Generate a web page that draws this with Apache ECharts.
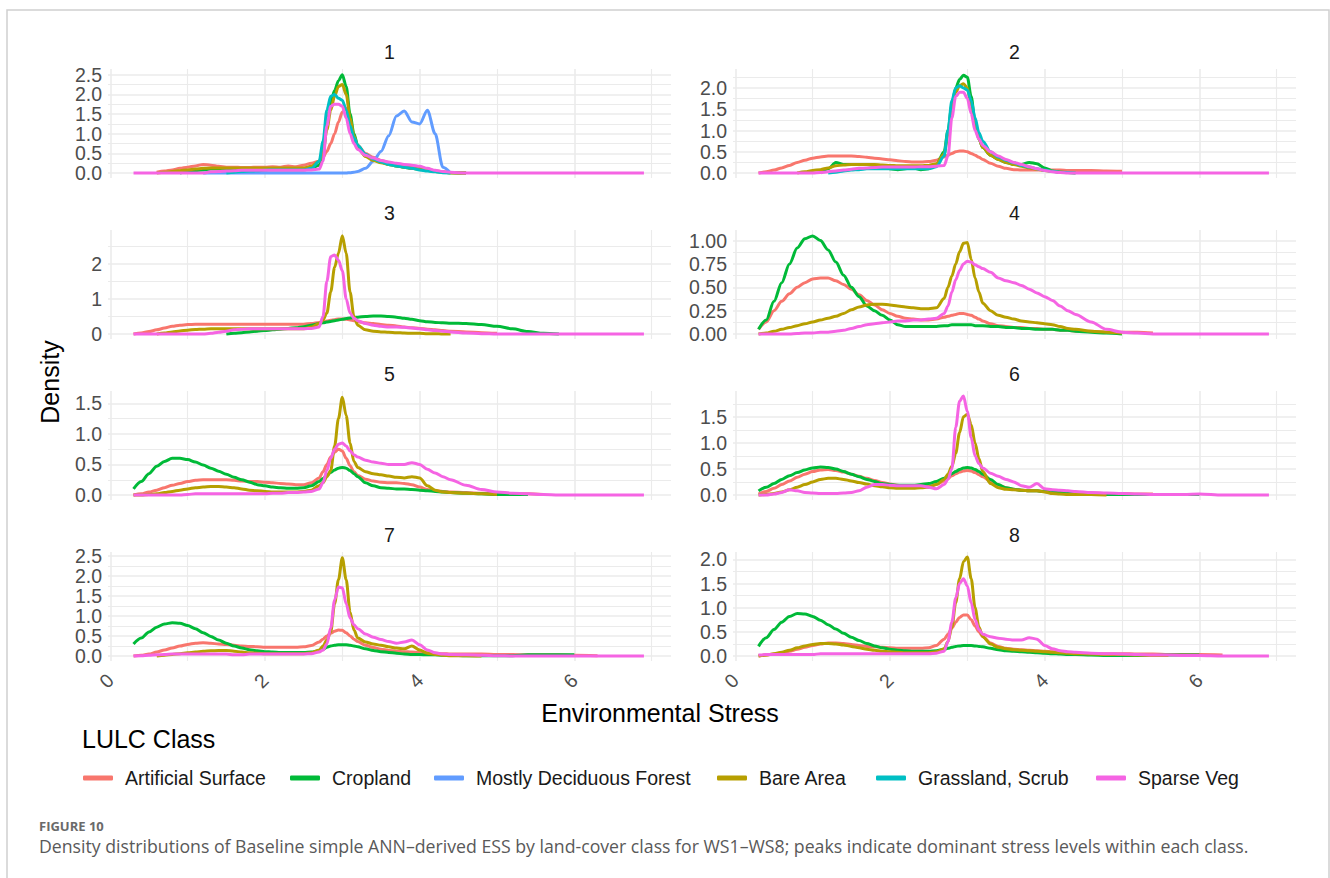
<!DOCTYPE html>
<html><head><meta charset="utf-8">
<script src="https://cdn.jsdelivr.net/npm/echarts@6/dist/echarts.min.js"></script>
<style>html,body{margin:0;padding:0;background:#fff}#chart{width:1330px;height:878px}</style>
</head><body><div id="chart"></div>
<script>
const _ = null;
// Environmental Stress sample positions (shared by every curve)
const STRESS = [0.3,0.4,0.5,0.6,0.7,0.8,0.9,1.0,1.1,1.2,1.3,1.4,1.5,1.6,1.7,1.8,1.9,2.0,2.1,2.2,2.3,2.4,2.5,2.6,2.7,
  2.75,2.8,2.85,2.9,2.95,3.0,3.05,3.1,3.15,3.2,
  3.3,3.4,3.5,3.6,3.7,3.8,3.9,4.0,4.1,4.2,4.3,4.4,
  4.6,4.8,5.0,5.2,5.4,5.6,5.8,6.0,
  6.3,6.6,6.9];
const CLASSES = ['Artificial Surface','Cropland','Mostly Deciduous Forest','Bare Area','Grassland, Scrub','Sparse Veg'];
const CLASS_COLORS = ['#F8766D','#00BA38','#619CFF','#B79F00','#00BFC4','#F564E3'];
const PANEL_TITLES = ['1','2','3','4','5','6','7','8'];
const X_TICK_VALUES = [0,2,4,6];
const Y_MAX = [2.52,2.33,2.82,1.06,1.62,1.9,2.47,2.05];
const Y_STEP = [0.5,0.5,1,0.25,0.5,0.5,0.5,0.5];
const Y_DEC = [1,1,0,2,1,1,1,1];

// ---- WS1 ----
const WS1_ART = [_,_,_,0.02,0.05,0.08,0.12,0.15,0.18,0.22,0.2,0.17,0.15,0.15,0.14,0.14,0.15,0.15,0.16,0.15,0.18,0.16,0.2,0.25,0.3,
  0.4,0.55,0.75,1.0,1.3,1.55,1.65,1.3,0.9,0.7,
  0.5,0.4,0.32,0.27,0.22,0.2,0.18,0.15,0.1,0.06,0.03,0.01,
  0,_,_,_,_,_,_,_, _,_,_];
const WS1_CROP = [_,_,_,_,_,_,0,0.03,0.06,0.08,0.1,0.1,0.1,0.1,0.1,0.1,0.1,0.1,0.1,0.1,0.1,0.1,0.1,0.12,0.2,
  0.5,1.2,1.8,2.1,2.35,2.5,2.2,1.5,1.0,0.7,
  0.45,0.35,0.28,0.22,0.18,0.15,0.12,0.1,0.07,0.04,0.02,0.01,
  0,_,_,_,_,_,_,_, _,_,_];
const WS1_DEC = [_,_,_,_,_,_,_,_,_,0,0,0,0,0,0,0,0,0,0,0,0,0,0,0,0,
  0,0,0,0,0,0,0,0.01,0.02,0.04,
  0.12,0.3,0.55,0.95,1.45,1.58,1.3,1.25,1.6,1.0,0.15,0,
  _,_,_,_,_,_,_,_, _,_,_];
const WS1_BARE = [_,_,_,0,0.02,0.04,0.06,0.08,0.1,0.12,0.13,0.13,0.13,0.13,0.13,0.13,0.13,0.13,0.13,0.13,0.13,0.13,0.13,0.17,0.3,
  0.5,1.1,1.6,1.95,2.2,2.25,2.0,1.4,0.95,0.65,
  0.42,0.32,0.26,0.22,0.18,0.15,0.12,0.1,0.07,0.04,0.02,0.01,
  0,_,_,_,_,_,_,_, _,_,_];
const WS1_GRASS = [_,_,_,_,_,_,_,_,_,_,_,_,0,0.02,0.04,0.05,0.06,0.07,0.08,0.08,0.08,0.08,0.08,0.12,0.3,
  0.8,1.6,1.95,2.0,1.9,1.85,1.6,1.2,0.9,0.7,
  0.48,0.36,0.28,0.22,0.18,0.15,0.12,0.08,0.05,0.03,0.01,0,
  _,_,_,_,_,_,_,_, _,_,_];
const WS1_SPARSE = [0,0,0,0,0,0,0,0,0,0,0.03,0.04,0.05,0.06,0.07,0.07,0.07,0.07,0.07,0.07,0.07,0.07,0.07,0.08,0.1,
  0.3,1.2,1.7,1.75,1.75,1.7,1.4,1.0,0.75,0.6,
  0.45,0.38,0.32,0.28,0.25,0.22,0.2,0.17,0.12,0.07,0.04,0.02,
  0,0,0,0,0,0,0,0, 0,0,0];

// ---- WS2 ----
const WS2_ART = [0,0.03,0.07,0.12,0.18,0.25,0.3,0.35,0.38,0.4,0.4,0.4,0.4,0.39,0.37,0.35,0.33,0.31,0.29,0.27,0.26,0.26,0.27,0.3,0.38,
  0.42,0.46,0.5,0.52,0.52,0.5,0.46,0.42,0.37,0.32,
  0.23,0.16,0.11,0.08,0.07,0.07,0.07,0.07,0.07,0.07,0.06,0.06,
  0.06,0.05,0.04,_,_,_,_,_, _,_,_];
const WS2_CROP = [_,_,_,_,_,_,_,_,0,0.1,0.25,0.2,0.2,0.2,0.2,0.18,0.12,0.1,0.08,0.1,0.12,0.08,0.1,0.2,0.5,
  1.0,1.6,2.0,2.2,2.3,2.25,1.8,1.2,0.8,0.6,
  0.42,0.32,0.25,0.2,0.2,0.25,0.22,0.12,0.05,0.02,0.01,_,
  _,_,_,_,_,_,_,_, _,_,_];
const WS2_BARE = [_,_,_,_,_,0,0.03,0.06,0.08,0.12,0.17,0.19,0.2,0.2,0.2,0.2,0.19,0.18,0.17,0.17,0.17,0.17,0.18,0.22,0.45,
  0.9,1.5,1.9,2.05,2.1,2.0,1.6,1.1,0.8,0.6,
  0.42,0.32,0.25,0.2,0.16,0.12,0.09,0.06,0.04,0.02,0.01,0,
  _,_,_,_,_,_,_,_, _,_,_];
const WS2_GRASS = [_,_,_,_,_,_,_,_,_,0,0.02,0.05,0.07,0.08,0.1,0.1,0.1,0.1,0.1,0.1,0.1,0.1,0.1,0.15,0.4,
  1.0,1.7,2.0,2.05,2.0,1.95,1.7,1.3,0.95,0.75,
  0.5,0.38,0.3,0.24,0.18,0.14,0.1,0.07,0.04,0.02,0.01,0,
  _,_,_,_,_,_,_,_, _,_,_];
const WS2_SPARSE = [0,0,0,0,0,0,0,0,0.01,0.03,0.05,0.07,0.09,0.11,0.12,0.13,0.14,0.14,0.14,0.14,0.14,0.15,0.15,0.16,0.18,
  0.4,1.3,1.8,1.9,1.9,1.75,1.4,1.0,0.8,0.65,
  0.5,0.4,0.32,0.25,0.2,0.15,0.1,0.06,0.03,0.01,0,0,
  0,0,0,0,0,0,0,0, 0,0,0];

// ---- WS3 ----
const WS3_ART = [0,0.03,0.07,0.12,0.17,0.22,0.25,0.27,0.28,0.28,0.28,0.28,0.28,0.28,0.28,0.28,0.28,0.28,0.28,0.28,0.28,0.28,0.28,0.3,0.33,
  0.35,0.37,0.39,0.41,0.43,0.43,0.42,0.4,0.38,0.35,
  0.32,0.3,0.27,0.25,0.23,0.2,0.18,0.16,0.14,0.12,0.1,0.08,
  0.06,0.04,0.02,_,_,_,_,_, _,_,_];
const WS3_CROP = [_,_,_,_,_,_,_,_,_,_,_,_,0,0.02,0.04,0.06,0.08,0.1,0.12,0.14,0.16,0.18,0.21,0.25,0.3,
  0.32,0.34,0.36,0.38,0.4,0.42,0.44,0.46,0.47,0.48,
  0.5,0.51,0.51,0.5,0.48,0.45,0.42,0.38,0.35,0.33,0.32,0.31,
  0.3,0.27,0.22,0.15,0.07,0.02,0,_, _,_,_];
const WS3_BARE = [_,_,_,0,0.03,0.06,0.09,0.11,0.13,0.14,0.15,0.15,0.15,0.15,0.15,0.15,0.15,0.15,0.15,0.15,0.15,0.15,0.15,0.2,0.3,
  0.4,0.6,1.2,1.9,2.3,2.8,2.3,1.2,0.5,0.25,
  0.12,0.08,0.06,0.05,0.04,0.03,0.02,0.02,0.01,0.01,0,0,
  _,_,_,_,_,_,_,_, _,_,_];
const WS3_SPARSE = [0,0,0,0,0,0,0,0,0,0,0.02,0.05,0.08,0.12,0.14,0.15,0.15,0.15,0.15,0.15,0.15,0.15,0.15,0.16,0.2,
  0.5,1.5,2.2,2.25,2.1,1.8,1.0,0.6,0.45,0.38,
  0.3,0.25,0.22,0.2,0.2,0.19,0.17,0.15,0.12,0.1,0.08,0.06,
  0.03,0.01,0,0,0,0,0,0, 0,0,0];

// ---- WS4 ----
const WS4_ART = [0.05,0.13,0.25,0.35,0.43,0.5,0.55,0.59,0.6,0.6,0.57,0.53,0.48,0.42,0.36,0.31,0.26,0.22,0.19,0.17,0.16,0.15,0.15,0.16,0.18,
  0.19,0.2,0.21,0.22,0.22,0.21,0.2,0.18,0.16,0.14,
  0.11,0.09,0.08,0.07,0.07,0.06,0.06,0.05,0.05,0.04,0.04,0.03,
  0.03,0.02,0.02,0.02,0.01,_,_,_, _,_,_];
const WS4_CROP = [0.05,0.15,0.35,0.55,0.75,0.92,1.02,1.05,1.0,0.9,0.77,0.63,0.5,0.4,0.3,0.25,0.2,0.15,0.1,0.08,0.08,0.08,0.08,0.08,0.09,
  0.09,0.1,0.1,0.1,0.1,0.1,0.1,0.09,0.09,0.09,
  0.08,0.08,0.07,0.07,0.06,0.06,0.05,0.05,0.05,0.04,0.04,0.03,
  0.02,0.01,0,_,_,_,_,_, _,_,_];
const WS4_BARE = [0,0.01,0.03,0.05,0.07,0.09,0.11,0.13,0.15,0.17,0.19,0.22,0.26,0.29,0.31,0.32,0.32,0.31,0.3,0.29,0.28,0.27,0.27,0.28,0.38,
  0.5,0.62,0.75,0.88,0.97,0.98,0.8,0.6,0.45,0.33,
  0.25,0.2,0.18,0.16,0.14,0.13,0.12,0.11,0.1,0.08,0.06,0.05,
  0.03,0.02,0.01,_,_,_,_,_, _,_,_];
const WS4_SPARSE = [0,0,0,0,0,0.005,0.01,0.01,0.02,0.02,0.03,0.04,0.06,0.08,0.1,0.11,0.12,0.13,0.14,0.14,0.15,0.15,0.16,0.17,0.22,
  0.3,0.45,0.58,0.68,0.75,0.78,0.77,0.74,0.72,0.7,
  0.66,0.6,0.57,0.55,0.52,0.48,0.44,0.4,0.36,0.3,0.25,0.21,
  0.13,0.05,0.02,0.01,0,0,0,0, 0,0,0];

// ---- WS5 ----
const WS5_ART = [0,0.02,0.05,0.08,0.12,0.16,0.19,0.22,0.24,0.25,0.25,0.25,0.25,0.24,0.23,0.22,0.22,0.21,0.2,0.19,0.18,0.17,0.17,0.2,0.28,
  0.38,0.5,0.62,0.7,0.75,0.72,0.6,0.48,0.38,0.32,
  0.26,0.23,0.21,0.2,0.2,0.19,0.17,0.13,0.09,0.07,0.06,0.05,
  0.04,0.03,0.03,0.02,0.02,0.01,_,_, _,_,_];
const WS5_CROP = [0.1,0.22,0.35,0.47,0.55,0.6,0.6,0.58,0.54,0.49,0.44,0.39,0.34,0.29,0.25,0.21,0.17,0.15,0.13,0.12,0.11,0.11,0.12,0.15,0.22,
  0.27,0.32,0.37,0.41,0.44,0.45,0.44,0.4,0.35,0.3,
  0.2,0.15,0.12,0.11,0.1,0.1,0.09,0.08,0.07,0.06,0.05,0.04,
  0.03,0.02,0.01,0.01,0.01,_,_,_, _,_,_];
const WS5_BARE = [0,0,0.01,0.02,0.04,0.06,0.08,0.1,0.12,0.13,0.14,0.14,0.13,0.12,0.1,0.08,0.07,0.06,0.05,0.05,0.05,0.05,0.06,0.08,0.15,
  0.2,0.3,0.4,0.8,1.25,1.6,1.3,0.85,0.55,0.45,
  0.38,0.35,0.33,0.31,0.29,0.28,0.3,0.28,0.15,0.08,0.05,0.04,
  0.03,0.02,0.01,_,_,_,_,_, _,_,_];
const WS5_SPARSE = [0,0,0,0,0,0,0,0.01,0.02,0.02,0.02,0.02,0.02,0.02,0.02,0.02,0.02,0.02,0.03,0.03,0.04,0.04,0.05,0.06,0.1,
  0.2,0.4,0.6,0.75,0.83,0.85,0.8,0.72,0.66,0.62,
  0.57,0.54,0.52,0.5,0.5,0.5,0.53,0.5,0.42,0.36,0.3,0.25,
  0.16,0.09,0.05,0.03,0.02,0.01,0,0, 0,0,0];

// ---- WS6 ----
const WS6_ART = [0.02,0.07,0.13,0.2,0.27,0.34,0.4,0.45,0.48,0.49,0.47,0.44,0.4,0.36,0.32,0.28,0.24,0.21,0.19,0.17,0.16,0.16,0.17,0.2,0.27,
  0.32,0.37,0.41,0.44,0.46,0.47,0.46,0.43,0.39,0.35,
  0.26,0.19,0.14,0.11,0.09,0.08,0.08,0.07,0.06,0.05,0.05,0.04,
  0.04,0.03,0.03,0.02,0.02,_,_,_, _,_,_];
const WS6_CROP = [0.08,0.15,0.22,0.3,0.37,0.43,0.48,0.52,0.54,0.53,0.5,0.45,0.4,0.35,0.3,0.26,0.22,0.2,0.19,0.19,0.19,0.2,0.22,0.26,0.32,
  0.36,0.41,0.45,0.49,0.52,0.53,0.52,0.49,0.45,0.4,
  0.3,0.2,0.14,0.11,0.09,0.08,0.08,0.07,0.06,0.05,0.04,0.03,
  0.02,0.01,0.01,0.01,0.01,0.01,0.01,0.01, _,_,_];
const WS6_BARE = [0,0.01,0.03,0.06,0.1,0.15,0.2,0.25,0.3,0.32,0.32,0.3,0.27,0.24,0.21,0.18,0.16,0.14,0.13,0.13,0.13,0.14,0.15,0.2,0.3,
  0.4,0.55,0.8,1.2,1.5,1.55,1.35,1.0,0.7,0.45,
  0.22,0.14,0.11,0.1,0.09,0.08,0.08,0.06,0.03,0.02,0.01,0.01,
  0.01,0,_,_,_,_,_,_, _,_,_];
const WS6_SPARSE = [0,0,0.02,0.05,0.1,0.08,0.05,0.04,0.03,0.03,0.03,0.04,0.05,0.08,0.15,0.2,0.2,0.19,0.18,0.18,0.18,0.18,0.15,0.12,0.2,
  0.3,0.5,1.3,1.8,1.9,1.6,1.1,0.75,0.6,0.52,
  0.42,0.36,0.3,0.25,0.18,0.15,0.22,0.12,0.1,0.09,0.08,0.07,
  0.05,0.04,0.03,0.02,0.01,0.01,0.01,0.02, 0,0,0];

// ---- WS7 ----
const WS7_ART = [0,0.02,0.05,0.1,0.15,0.2,0.25,0.29,0.32,0.33,0.32,0.3,0.29,0.27,0.25,0.24,0.23,0.22,0.22,0.22,0.22,0.22,0.23,0.26,0.35,
  0.42,0.5,0.57,0.62,0.65,0.64,0.58,0.5,0.42,0.36,
  0.27,0.21,0.17,0.14,0.12,0.11,0.1,0.09,0.08,0.07,0.06,0.05,
  0.05,0.05,0.04,0.04,0.03,0.03,0.03,0.02, 0.01,_,_];
const WS7_CROP = [0.3,0.45,0.6,0.72,0.8,0.83,0.82,0.76,0.68,0.58,0.49,0.4,0.32,0.25,0.2,0.16,0.13,0.11,0.1,0.09,0.09,0.09,0.09,0.1,0.13,
  0.17,0.22,0.25,0.27,0.28,0.28,0.28,0.27,0.25,0.23,
  0.18,0.14,0.11,0.09,0.07,0.05,0.04,0.04,0.03,0.03,0.02,0.02,
  0.01,0.01,0.01,0.01,0.03,0.03,0.03,0.03, _,_,_];
const WS7_BARE = [_,_,_,0,0.02,0.04,0.06,0.08,0.1,0.12,0.13,0.14,0.14,0.12,0.1,0.08,0.07,0.06,0.06,0.06,0.06,0.06,0.06,0.08,0.15,
  0.25,0.4,0.6,1.3,1.9,2.45,1.9,1.1,0.65,0.45,
  0.35,0.3,0.27,0.23,0.2,0.18,0.25,0.15,0.07,0.04,0.02,0.01,
  0.01,0,_,_,_,_,_,_, _,_,_];
const WS7_SPARSE = [0,0.01,0.02,0.03,0.04,0.05,0.05,0.05,0.05,0.05,0.05,0.05,0.05,0.03,0.03,0.05,0.05,0.05,0.05,0.05,0.05,0.05,0.05,0.06,0.1,
  0.15,0.3,0.7,1.4,1.72,1.7,1.3,0.95,0.78,0.68,
  0.55,0.47,0.41,0.36,0.32,0.35,0.4,0.28,0.15,0.08,0.05,0.04,
  0.03,0.02,0.01,0,0,0,0,0, 0,0,0];

// ---- WS8 ----
const WS8_ART = [0,0.02,0.04,0.07,0.1,0.14,0.18,0.22,0.25,0.27,0.27,0.26,0.24,0.22,0.2,0.19,0.18,0.17,0.16,0.16,0.16,0.16,0.17,0.22,0.35,
  0.45,0.58,0.7,0.8,0.85,0.85,0.75,0.62,0.5,0.4,
  0.27,0.2,0.16,0.14,0.13,0.12,0.11,0.1,0.09,0.08,0.07,0.06,
  0.05,0.05,0.05,0.04,0.04,0.03,0.03,0.03, 0.02,_,_];
const WS8_CROP = [0.2,0.38,0.55,0.7,0.82,0.88,0.87,0.82,0.74,0.65,0.56,0.47,0.39,0.32,0.26,0.21,0.17,0.14,0.12,0.11,0.1,0.1,0.1,0.11,0.14,
  0.16,0.18,0.2,0.21,0.22,0.22,0.22,0.21,0.2,0.19,
  0.16,0.13,0.11,0.1,0.09,0.08,0.07,0.06,0.05,0.04,0.03,0.03,
  0.02,0.01,0.01,0.01,0.01,0.02,0.02,0.02, _,_,_];
const WS8_BARE = [0,0.02,0.05,0.08,0.12,0.17,0.21,0.24,0.26,0.26,0.25,0.23,0.2,0.17,0.14,0.12,0.1,0.09,0.08,0.07,0.07,0.07,0.07,0.09,0.15,
  0.3,0.6,1.1,1.6,1.95,2.05,1.6,1.0,0.6,0.4,
  0.25,0.18,0.15,0.13,0.12,0.11,0.1,0.09,0.08,0.07,0.06,0.05,
  0.04,0.03,0.03,0.02,0.01,0.01,_,_, _,_,_];
const WS8_SPARSE = [0.02,0.03,0.03,0.03,0.03,0.03,0.03,0.03,0.05,0.05,0.05,0.05,0.05,0.05,0.05,0.05,0.05,0.05,0.05,0.05,0.05,0.05,0.05,0.06,0.1,
  0.3,0.7,1.2,1.5,1.6,1.45,1.1,0.75,0.55,0.45,
  0.4,0.37,0.35,0.33,0.33,0.38,0.35,0.22,0.15,0.11,0.09,0.08,
  0.06,0.05,0.04,0.03,0.02,0.02,0.01,0.01, 0,0,0];

// panel -> curves in class order (null = class absent)
const PANEL_CURVES = [
  [WS1_ART, WS1_CROP, WS1_DEC, WS1_BARE, WS1_GRASS, WS1_SPARSE],
  [WS2_ART, WS2_CROP, null, WS2_BARE, WS2_GRASS, WS2_SPARSE],
  [WS3_ART, WS3_CROP, null, WS3_BARE, null, WS3_SPARSE],
  [WS4_ART, WS4_CROP, null, WS4_BARE, null, WS4_SPARSE],
  [WS5_ART, WS5_CROP, null, WS5_BARE, null, WS5_SPARSE],
  [WS6_ART, WS6_CROP, null, WS6_BARE, null, WS6_SPARSE],
  [WS7_ART, WS7_CROP, null, WS7_BARE, null, WS7_SPARSE],
  [WS8_ART, WS8_CROP, null, WS8_BARE, null, WS8_SPARSE]
];

// ---- layout ----
const COL_X = [108, 733];
const PANEL_W = 563;
const ROW_Y = [69, 230, 391, 552];
const PANEL_H = 109;
const X_MIN = -0.03, X_MAX = 7.25;
const LEGEND_X = [78, 285, 429, 712, 871, 1091];
const FONT = '"Liberation Sans", Arial, sans-serif';
const GRID_COLOR = '#EBEBEB';

const grids = [], xAxes = [], yAxes = [], series = [], graphics = [];
for (let p = 0; p < 8; p++) {
  const col = p % 2, row = Math.floor(p / 2);
  grids.push({left: COL_X[col], top: ROW_Y[row], width: PANEL_W, height: PANEL_H, containLabel: false});
  const bottom = row === 3;
  xAxes.push({
    type: 'value', gridIndex: p, min: X_MIN, max: X_MAX,
    minInterval: 2, maxInterval: 2, splitNumber: 4,
    axisLine: {show: false}, axisTick: {show: false},
    axisLabel: {show: bottom, rotate: 45, margin: 16, fontSize: 19.5, color: '#4D4D4D', fontFamily: FONT,
      showMinLabel: false, showMaxLabel: false,
      formatter: v => (X_TICK_VALUES.indexOf(Math.round(v * 1000) / 1000) >= 0 ? String(Math.round(v)) : '')},
    splitLine: {show: true, showMinLine: false, showMaxLine: false, lineStyle: {color: GRID_COLOR, width: 1.6}},
    minorTick: {show: false, splitNumber: 2},
    minorSplitLine: {show: true, lineStyle: {color: GRID_COLOR, width: 1.1}}
  });
  const step = Y_STEP[p], dec = Y_DEC[p], M = Y_MAX[p];
  yAxes.push({
    type: 'value', gridIndex: p, min: -0.05 * M, max: 1.05 * M,
    minInterval: step, maxInterval: step, splitNumber: 5,
    axisLine: {show: false}, axisTick: {show: false},
    axisLabel: {show: true, margin: 6, fontSize: 19.5, color: '#4D4D4D', fontFamily: FONT,
      showMinLabel: false, showMaxLabel: false,
      formatter: v => {
        const k = v / step;
        if (v < -1e-9 || Math.abs(k - Math.round(k)) > 1e-6) return '';
        return v.toFixed(dec);
      }},
    splitLine: {show: true, showMinLine: false, showMaxLine: false, lineStyle: {color: GRID_COLOR, width: 1.6}},
    minorTick: {show: false, splitNumber: 2},
    minorSplitLine: {show: true, lineStyle: {color: GRID_COLOR, width: 1.1}}
  });
  PANEL_CURVES[p].forEach((ys, c) => {
    if (!ys) return;
    const data = [];
    STRESS.forEach((x, i) => { if (ys[i] !== null) data.push([x, ys[i]]); });
    series.push({
      type: 'line', name: CLASSES[c], xAxisIndex: p, yAxisIndex: p, data,
      showSymbol: false, symbol: 'none', smooth: 0.3, smoothMonotone: 'x',
      lineStyle: {color: CLASS_COLORS[c], width: 3}, itemStyle: {color: CLASS_COLORS[c]},
      emphasis: {disabled: true}, silent: true, animation: false
    });
  });
  graphics.push({type: 'text', x: COL_X[col] + PANEL_W / 2, y: ROW_Y[row] - 17,
    style: {text: PANEL_TITLES[p], font: '19.5px ' + FONT, fill: '#1A1A1A', textAlign: 'center', textVerticalAlign: 'middle'}});
}

graphics.push(
  {type: 'rect', shape: {x: 7, y: 10, width: 1322, height: 900}, style: {fill: 'none', stroke: '#D0D0D0', lineWidth: 1.5}, z: -10},
  {type: 'text', x: 660, y: 713, style: {text: 'Environmental Stress', font: '25px ' + FONT, fill: '#000', textAlign: 'center', textVerticalAlign: 'middle'}},
  {type: 'text', x: 50, y: 382, rotation: Math.PI / 2, style: {text: 'Density', font: '25px ' + FONT, fill: '#000', textAlign: 'center', textVerticalAlign: 'middle'}},
  {type: 'text', x: 82, y: 739, style: {text: 'LULC Class', font: '25px ' + FONT, fill: '#000', textAlign: 'left', textVerticalAlign: 'middle'}},
  {type: 'text', x: 39, y: 826, style: {text: 'FIGURE 10', font: 'bold 13px "Open Sans", sans-serif', fill: '#6A6A6A', textAlign: 'left', textVerticalAlign: 'middle'}},
  {type: 'text', x: 39, y: 846, style: {text: 'Density distributions of Baseline simple ANN\u2013derived ESS by land-cover class for WS1\u2013WS8; peaks indicate dominant stress levels within each class.', font: '17.7px "Open Sans", sans-serif', fill: '#595959', textAlign: 'left', textVerticalAlign: 'middle'}}
);

const legends = CLASSES.map((name, i) => ({
  data: [{name, icon: 'roundRect'}], left: LEGEND_X[i], top: 763, orient: 'horizontal',
  itemWidth: 30, itemHeight: 5, selectedMode: false,
  textStyle: {fontSize: 19.5, color: '#1A1A1A', fontFamily: FONT, padding: [0, 0, 0, 7]}
}));

const chart = echarts.init(document.getElementById('chart'), null, {renderer: 'svg'});
chart.setOption({
  backgroundColor: '#fff', animation: false,
  grid: grids, xAxis: xAxes, yAxis: yAxes, series, legend: legends, graphic: graphics
});
</script></body></html>
